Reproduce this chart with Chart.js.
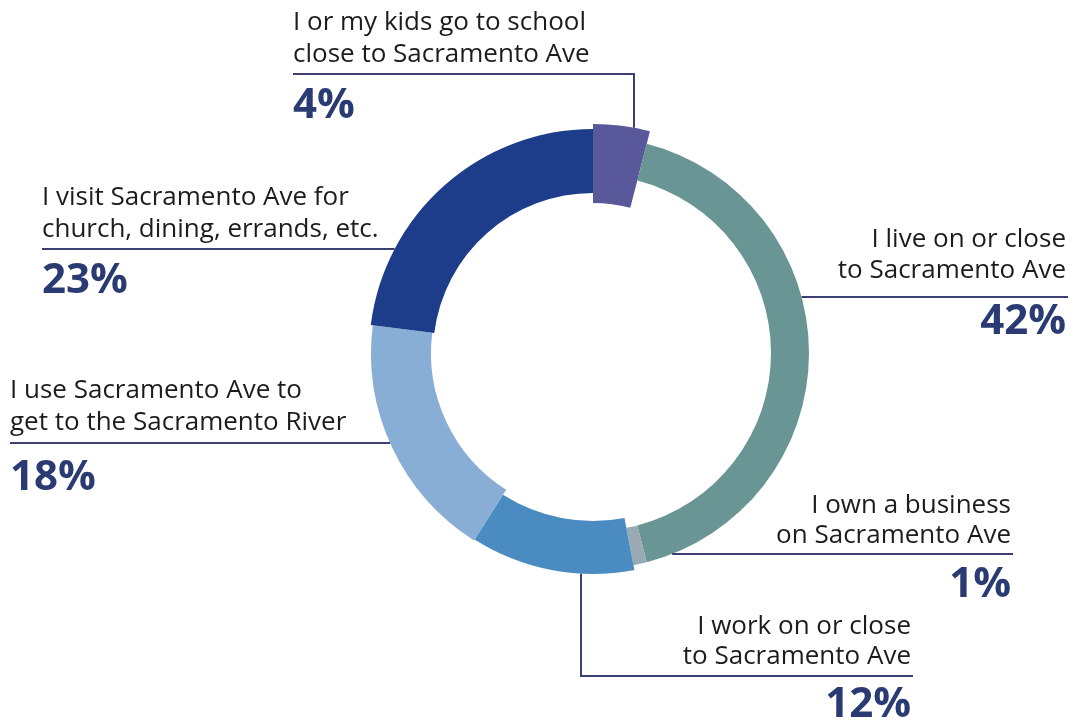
<!DOCTYPE html>
<html lang="en">
<head>
    <meta charset="UTF-8">
    <title>Sacramento Ave connection</title>
    <script src="https://cdn.jsdelivr.net/npm/chart.js"></script>
    <style>
        html, body {
            margin: 0;
            padding: 0;
            background: #fff;
        }
        .wrap {
            width: 1071px;
            height: 723px;
            position: relative;
        }
    </style>
</head>
<body>
    <div class="wrap">
        <canvas id="ringChart"></canvas>
    </div>

    <script>
        // data
        const categories = [
            ["I or my kids go to school", "close to Sacramento Ave"],
            ["I live on or close", "to Sacramento Ave"],
            ["I own a business", "on Sacramento Ave"],
            ["I work on or close", "to Sacramento Ave"],
            ["I use Sacramento Ave to", "get to the Sacramento River"],
            ["I visit Sacramento Ave for", "church, dining, errands, etc."]
        ];
        const values = [4, 42, 1, 12, 18, 23];
        const percentLabels = values.map(v => v + "%");

        // styles
        const colors = ["#58589a", "#6a9595", "#9aaab2", "#4a8cc2", "#89aed6", "#1d3d8a"];
        // hand drawn ring: each piece has its own outer / inner radius
        const outerR = [229, 216, 216, 221, 222, 224];
        const innerR = [150, 178, 178, 168, 162, 160];

        // where each label sits (align, text x, baselines, rule y, pct baseline, leader)
        const labelLayout = [
            { align: "left",  x: 293,  lines: [30, 62],   rule: 74,  pct: 118, lead: "up",    lx: 634 },
            { align: "right", x: 1066, lines: [247, 278], rule: 297, pct: 334, lead: "right" },
            { align: "right", x: 1011, lines: [513, 543], rule: 554, pct: 597, lead: "right" },
            { align: "right", x: 911,  lines: [634, 664], rule: 676, pct: 717, lead: "down",  lx: 581 },
            { align: "left",  x: 10,   lines: [398, 430], rule: 443, pct: 490, lead: "left" },
            { align: "left",  x: 42,   lines: [205, 237], rule: 249, pct: 293, lead: "left" }
        ];

        const ringShape = {
            id: 'ringShape',
            afterDatasetsUpdate(chart) {
                chart.getDatasetMeta(0).data.forEach((arc, i) => {
                    arc.outerRadius = outerR[i];
                    arc.innerRadius = innerR[i];
                });
            }
        };

        const calloutLabels = {
            id: 'calloutLabels',
            afterDraw(chart) {
                const ctx = chart.ctx;
                const arcs = chart.getDatasetMeta(0).data;
                const cx = arcs[0].x, cy = arcs[0].y;
                ctx.save();
                labelLayout.forEach((L, i) => {
                    const R = outerR[i];
                    ctx.textAlign = L.align;
                    ctx.textBaseline = "alphabetic";
                    ctx.fillStyle = "#1c1c1c";
                    ctx.font = "26px 'Open Sans'";
                    categories[i].forEach((t, k) => ctx.fillText(t, L.x, L.lines[k]));
                    ctx.fillStyle = "#2a3a72";
                    ctx.font = "bold 42px 'Open Sans'";
                    ctx.fillText(percentLabels[i], L.x, L.pct);

                    ctx.strokeStyle = "#3b3f74";
                    ctx.lineWidth = 2;
                    ctx.beginPath();
                    if (L.lead === "left") {
                        const dy = L.rule - cy;
                        const ex = cx - Math.sqrt(R * R - dy * dy);
                        ctx.moveTo(L.x, L.rule);
                        ctx.lineTo(ex, L.rule);
                    } else if (L.lead === "right") {
                        const dy = L.rule - cy;
                        const ex = cx + Math.sqrt(R * R - dy * dy);
                        ctx.moveTo(ex, L.rule);
                        ctx.lineTo(L.x + 2, L.rule);
                    } else if (L.lead === "up") {
                        const dx = L.lx - cx;
                        const ey = cy - Math.sqrt(R * R - dx * dx);
                        ctx.moveTo(L.x, L.rule);
                        ctx.lineTo(L.lx, L.rule);
                        ctx.lineTo(L.lx, ey);
                    } else {
                        const dx = L.lx - cx;
                        const ey = cy + Math.sqrt(R * R - dx * dx);
                        ctx.moveTo(L.lx, ey);
                        ctx.lineTo(L.lx, L.rule);
                        ctx.lineTo(L.x + 2, L.rule);
                    }
                    ctx.stroke();
                });
                ctx.restore();
            }
        };

        new Chart(document.getElementById('ringChart'), {
            type: 'doughnut',
            data: {
                labels: categories.map(c => c.join(" ")),
                datasets: [{
                    data: values,
                    backgroundColor: colors,
                    borderWidth: 0,
                    clip: false
                }]
            },
            options: {
                responsive: true,
                maintainAspectRatio: false,
                animation: false,
                cutout: '70%',
                layout: {
                    padding: { left: 363, right: 248, top: 123, bottom: 140 }
                },
                plugins: {
                    legend: { display: false },
                    tooltip: { enabled: false }
                }
            },
            plugins: [ringShape, calloutLabels]
        });
    </script>
</body>
</html>
